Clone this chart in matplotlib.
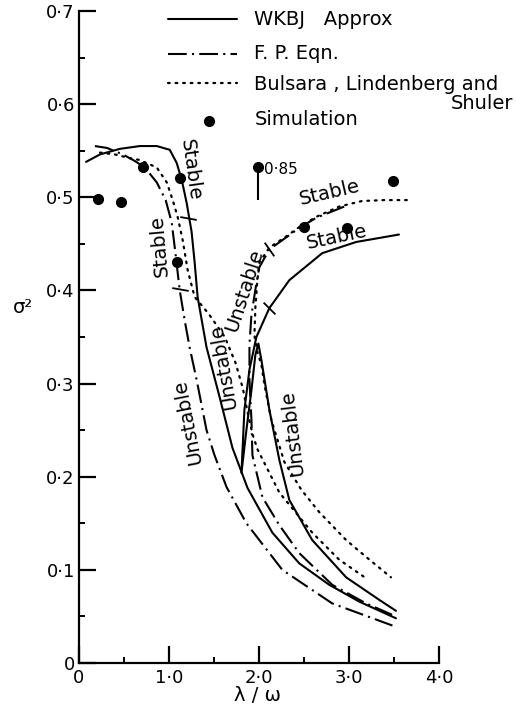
import matplotlib.pyplot as plt
from matplotlib.ticker import FixedLocator, FixedFormatter, MultipleLocator

# WKBJ approx, branch coming from small lambda
wkbj_a_lam = [0.078, 0.233, 0.454, 0.676, 0.864, 1.008, 1.085, 1.141, 1.196, 1.251, 1.285,
              1.318, 1.417, 1.561, 1.705, 1.872, 2.148, 2.447, 2.780, 3.112, 3.522]
wkbj_a_sig = [0.538, 0.546, 0.552, 0.555, 0.555, 0.551, 0.537, 0.519, 0.494, 0.463, 0.430,
              0.393, 0.339, 0.286, 0.231, 0.188, 0.140, 0.107, 0.084, 0.066, 0.048]
# WKBJ approx, upper stable branch and cusp
wkbj_b_lam = [3.555, 3.079, 2.702, 2.337, 2.115, 1.971, 1.894, 1.838, 1.805, 1.860, 1.916,
              1.960, 1.993, 2.027, 2.115, 2.226, 2.337, 2.591, 2.968, 3.333, 3.522]
wkbj_b_sig = [0.460, 0.452, 0.440, 0.411, 0.381, 0.350, 0.315, 0.272, 0.204, 0.250, 0.293,
              0.331, 0.343, 0.325, 0.272, 0.218, 0.175, 0.132, 0.092, 0.068, 0.056]

# F. P. equation
fp_a_lam = [0.177, 0.310, 0.487, 0.620, 0.731, 0.864, 0.963, 1.030, 1.074, 1.118, 1.174,
            1.229, 1.307, 1.417, 1.506, 1.639, 1.860, 2.259, 2.813, 3.488]
fp_a_sig = [0.555, 0.553, 0.546, 0.539, 0.532, 0.516, 0.497, 0.473, 0.438, 0.401, 0.368,
            0.339, 0.304, 0.250, 0.223, 0.189, 0.150, 0.100, 0.064, 0.040]
fp_b_lam = [2.946, 2.636, 2.447, 2.303, 2.115, 2.004, 1.960, 1.916, 1.894, 1.894, 1.916,
            1.927, 2.038, 2.226, 2.447, 2.813, 3.189, 3.522]
fp_b_sig = [0.490, 0.478, 0.467, 0.457, 0.444, 0.425, 0.401, 0.374, 0.342, 0.304, 0.261,
            0.223, 0.178, 0.148, 0.118, 0.084, 0.064, 0.050]

# Bulsara, Lindenberg and Shuler
bls_a_lam = [0.233, 0.399, 0.565, 0.676, 0.864, 0.975, 1.041, 1.096, 1.152, 1.207, 1.285,
             1.440, 1.620, 1.740, 1.820, 1.880, 1.930, 1.985, 2.226, 2.591, 2.890, 3.189]
bls_a_sig = [0.548, 0.546, 0.542, 0.540, 0.532, 0.516, 0.497, 0.479, 0.454, 0.422, 0.393,
             0.375, 0.350, 0.322, 0.295, 0.266, 0.245, 0.229, 0.183, 0.140, 0.111, 0.091]
bls_b_lam = [3.643, 3.389, 3.145, 2.890, 2.636, 2.447, 2.303, 2.115, 2.004, 1.982, 1.960,
             1.949, 1.982, 2.027, 2.060, 2.137, 2.281, 2.470, 2.669, 2.968, 3.189, 3.466]
bls_b_sig = [0.497, 0.497, 0.496, 0.490, 0.479, 0.468, 0.458, 0.446, 0.430, 0.411, 0.382,
             0.352, 0.334, 0.320, 0.299, 0.261, 0.216, 0.186, 0.162, 0.132, 0.114, 0.092]

# simulation
sim_lam = [0.21, 0.47, 0.71, 1.09, 1.12, 1.99, 2.50, 2.98, 3.49]
sim_sig = [0.498, 0.495, 0.532, 0.431, 0.521, 0.533, 0.468, 0.467, 0.517]
sim_spread_lam = 1.99
sim_spread = (0.497, 0.533)

# stability change marks (lambda, sigma, angle)
marks = [(1.118, 0.401, 80), (1.207, 0.478, 80), (2.115, 0.444, 35), (2.115, 0.381, 45)]

yticks = [0, 0.1, 0.2, 0.3, 0.4, 0.5, 0.6, 0.7]
ylabels = ['0', '0·1', '0·2', '0·3', '0·4', '0·5', '0·6', '0·7']
xticks = [0, 1, 2, 3, 4]
xlabels = ['0', '1·0', '2·0', '3·0', '4·0']

plt.rcParams['font.family'] = 'DejaVu Sans'
fig = plt.figure(figsize=(5.16, 7.12), dpi=100)
ax = fig.add_axes([79 / 516, 49 / 712, 360 / 516, 652 / 712])

solid = dict(color='k', lw=1.5, solid_capstyle='round')
dashdot = dict(color='k', lw=1.5, linestyle=(0, (9, 2.5, 1, 2.5)))
dotted = dict(color='k', lw=1.6, linestyle=(0, (0.8, 2.6)), dash_capstyle='round')

ax.plot(wkbj_a_lam, wkbj_a_sig, **solid)
ax.plot(wkbj_b_lam, wkbj_b_sig, **solid)
ax.plot(fp_a_lam, fp_a_sig, **dashdot)
ax.plot(fp_b_lam, fp_b_sig, **dashdot)
ax.plot(bls_a_lam, bls_a_sig, **dotted)
ax.plot(bls_b_lam, bls_b_sig, **dotted)
ax.plot(sim_lam, sim_sig, 'o', color='k', ms=7)
ax.vlines(sim_spread_lam, sim_spread[0], sim_spread[1], color='k', lw=1.5)
ax.text(2.06, 0.53, '0·85', fontsize=11, va='center')

for lx, ly, ang in marks:
    ax.plot(lx, ly, marker=(2, 0, ang), ms=12, mew=1.3, color='k')

# region labels
lab = dict(fontsize=14, ha='center', va='center', rotation_mode='anchor')
ax.text(0.90, 0.448, 'Stable', rotation=95, **lab)
ax.text(1.235, 0.530, 'Stable', rotation=-82, **lab)
ax.text(1.21, 0.259, 'Unstable', rotation=101, **lab)
ax.text(1.60, 0.318, 'Unstable', rotation=100, **lab)
ax.text(1.84, 0.400, 'Unstable', rotation=72, **lab)
ax.text(2.78, 0.505, 'Stable', rotation=13, **lab)
ax.text(2.87, 0.457, 'Stable', rotation=12, **lab)
ax.text(2.37, 0.247, 'Unstable', rotation=97, **lab)

# legend drawn by hand
ax.plot([0.986, 1.76], [0.691, 0.691], clip_on=False, **solid)
ax.plot([0.986, 1.76], [0.654, 0.654], clip_on=False, **dashdot)
ax.plot([0.986, 1.76], [0.623, 0.623], clip_on=False, **dotted)
ax.plot([1.44], [0.582], 'o', color='k', ms=7, clip_on=False)
leg = dict(fontsize=14, va='center', clip_on=False)
ax.text(1.95, 0.691, 'WKBJ   Approx', **leg)
ax.text(1.95, 0.654, 'F. P. Eqn.', **leg)
ax.text(1.95, 0.621, 'Bulsara , Lindenberg and', **leg)
ax.text(4.82, 0.601, 'Shuler', ha='right', **leg)
ax.text(1.95, 0.583, 'Simulation', **leg)

ax.set_xlim(0, 4)
ax.set_ylim(0, 0.7)
ax.spines['top'].set_visible(False)
ax.spines['right'].set_visible(False)
ax.spines['left'].set_linewidth(1.6)
ax.spines['bottom'].set_linewidth(1.6)
ax.yaxis.set_major_locator(FixedLocator(yticks))
ax.yaxis.set_major_formatter(FixedFormatter(ylabels))
ax.xaxis.set_major_locator(FixedLocator(xticks))
ax.xaxis.set_major_formatter(FixedFormatter(xlabels))
ax.yaxis.set_minor_locator(MultipleLocator(0.05))
ax.xaxis.set_minor_locator(MultipleLocator(0.5))
ax.tick_params(which='major', direction='in', length=12, width=1.6, labelsize=13, pad=4)
ax.tick_params(which='minor', direction='in', length=4, width=1.4)
ax.tick_params(axis='y', which='major', pad=3)

ax.set_ylabel('σ²', rotation=0, fontsize=14, va='center')
ax.yaxis.set_label_coords(-0.155, 0.545)
ax.set_xlabel('λ / ω', fontsize=14)
ax.xaxis.set_label_coords(0.497, -0.036)

fig.savefig('out.png', dpi=100)
